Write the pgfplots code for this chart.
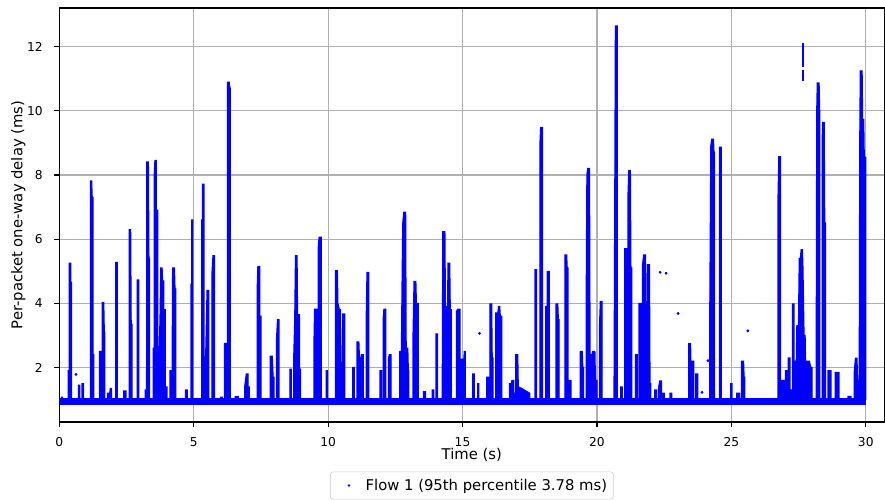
\documentclass[border=0pt]{standalone}
\usepackage{fontspec}
\setmainfont{DejaVu Sans}
\usepackage{pgfplots}
\pgfplotsset{compat=1.18}
\begin{document}
\begin{tikzpicture}
\path[use as bounding box] (-42.7bp,-56.2bp) rectangle (594.5bp,303.8bp);
\begin{axis}[
  at={(0,0)}, anchor=south west,
  scale only axis, width=594bp, height=298bp,
  xmin=0, xmax=30.69, ymin=0.31, ymax=13.2,
  xtick={0,5,...,30}, ytick={2,4,...,12},
  grid=major,
  major grid style={color=black!31, line width=0.8bp},
  axis line style={line width=0.8bp, black},
  tick align=outside, major tick length=3.5bp,
  tick style={line width=0.8bp, black},
  xtick pos=bottom, ytick pos=left,
  /pgf/number format/assume math mode=true,
  ticklabel style={font=\fontsize{8.85}{10}\selectfont},
  xticklabel style={anchor=north, inner sep=0pt, yshift=-7.4bp},
  yticklabel style={anchor=east, inner sep=0pt, xshift=-8.2bp},
  xlabel={Time (s)}, ylabel={Per-packet one-way delay (ms)},
  label style={font=\fontsize{10.7}{12}\selectfont},
  xlabel style={at={(axis description cs:0.5,0)}, anchor=center, yshift=-23.8bp},
  ylabel style={at={(axis description cs:-0.0497,0.5)}, anchor=center},
  legend style={at={(axis description cs:0.5,-0.120)}, anchor=north,
    draw=black!20, rounded corners=2bp, font=\fontsize{10.7}{12}\selectfont,
    inner xsep=2.5bp, inner ysep=3bp, nodes={inner xsep=2bp, inner ysep=2bp}},
  legend cell align=left,
  legend image code/.code={\path[draw=none, fill=none] (0bp,-1bp) rectangle (21bp,1bp); \fill[blue, draw=none] (11bp,0bp) circle (0.95bp);},
]
% baseline band
\addplot[blue, line width=5bp, forget plot] coordinates {(0,0.94) (30.02,0.94)};
% spike trace (filled above the 1 ms floor)
\addplot[draw=blue, fill=blue, line width=1bp, line join=miter, forget plot] coordinates {
(0,1.0)(0.08,1.0)(0.08,1.08)(0.12,1.08)(0.12,1.0)
(0.34,1.0)(0.34,1.9)(0.37,1.9)(0.37,5.25)(0.42,5.25)(0.42,4.65)(0.45,4.65)(0.45,1.0)
(0.72,1.0)(0.72,1.45)(0.76,1.45)(0.76,1.0)
(0.85,1.0)(0.85,1.5)(0.9,1.5)(0.9,1.0)
(1.16,1.0)(1.16,7.81)(1.2,7.81)(1.22,7.3)(1.25,7.3)(1.25,2.4)(1.28,2.4)(1.28,1.0)
(1.5,1.0)(1.5,2.5)(1.56,2.5)(1.56,1.0)
(1.6,1.0)(1.6,4.03)(1.65,4.03)(1.67,3.1)(1.69,3.1)(1.69,1.0)
(1.8,1.0)(1.8,1.2)(1.88,1.2)(1.9,1.35)(1.94,1.35)(1.94,1.0)
(2.1,1.0)(2.1,5.27)(2.15,5.27)(2.15,1.0)
(2.4,1.0)(2.4,1.27)(2.48,1.27)(2.48,1.0)
(2.6,1.0)(2.6,6.29)(2.65,6.29)(2.67,3.35)(2.7,3.35)(2.7,1.0)
(2.9,1.0)(2.9,4.73)(2.95,4.73)(2.95,1.0)
(3.2,1.0)(3.2,1.3)(3.25,1.3)(3.26,8.40)(3.31,8.40)(3.33,5.4)(3.35,5.4)(3.35,1.0)
(3.5,1.0)(3.5,2.6)(3.53,2.6)(3.53,7.9)(3.56,8.45)(3.6,8.45)(3.6,6.9)(3.66,6.9)(3.66,2.0)(3.72,2.5)(3.75,3.5)(3.78,5.1)(3.82,5.1)(3.84,4.7)(3.88,4.7)(3.88,3.8)(3.94,3.8)(3.94,1.4)(4.0,1.4)(4.0,1.0)
(4.12,1.0)(4.12,1.9)(4.2,1.9)(4.22,5.1)(4.28,5.1)(4.3,4.45)(4.33,4.45)(4.33,1.0)
(4.7,1.0)(4.7,1.3)(4.76,1.3)(4.76,1.0)
(4.9,1.0)(4.9,4.6)(4.93,4.6)(4.93,6.6)(4.96,6.6)(4.96,1.0)
(5.3,1.0)(5.3,6.6)(5.33,6.6)(5.33,7.71)(5.38,7.71)(5.38,1.9)(5.45,2.4)(5.5,4.4)(5.56,4.4)(5.56,1.0)
(5.68,1.0)(5.68,4.9)(5.72,5.48)(5.77,5.48)(5.77,1.0)
(6.0,1.0)(6.0,1.08)(6.06,1.08)(6.06,1.0)
(6.15,1.0)(6.15,2.75)(6.22,2.75)(6.22,1.6)(6.26,1.6)(6.26,10.89)(6.32,10.89)(6.34,10.7)(6.36,10.7)(6.36,1.0)
(6.55,1.0)(6.55,1.1)(6.65,1.1)(6.65,1.0)
(6.9,1.0)(6.9,1.4)(6.96,1.8)(7.02,1.8)(7.02,1.4)(7.06,1.4)(7.06,1.0)
(7.37,1.0)(7.37,4.6)(7.39,5.15)(7.45,5.15)(7.45,3.6)(7.5,3.6)(7.5,1.0)
(7.85,1.0)(7.85,2.35)(7.92,2.35)(7.95,1.7)(7.98,1.7)(7.98,1.0)
(8.08,1.0)(8.08,2.8)(8.12,3.49)(8.17,3.49)(8.17,1.0)
(8.58,1.0)(8.58,1.95)(8.63,1.95)(8.63,1.0)
(8.72,1.0)(8.72,2.2)(8.76,3.4)(8.79,5.48)(8.84,5.48)(8.86,3.65)(8.93,3.65)(8.93,1.95)(8.97,1.95)(8.97,1.0)
(9.48,1.0)(9.48,2.9)(9.5,3.82)(9.57,3.82)(9.57,1.6)(9.62,1.6)(9.64,5.8)(9.67,6.06)(9.74,6.06)(9.74,1.0)
(9.93,1.0)(9.93,1.9)(9.97,1.9)(9.97,1.0)
(10.28,1.0)(10.28,5.02)(10.34,5.02)(10.36,4.0)(10.42,3.8)(10.46,3.8)(10.46,2.0)(10.52,2.0)(10.55,3.67)(10.62,3.67)(10.62,1.0)
(10.92,1.0)(10.92,2.0)(10.97,2.0)(10.97,1.0)
(11.08,1.0)(11.08,2.8)(11.14,2.8)(11.16,2.3)(11.22,2.3)(11.24,2.4)(11.3,2.4)(11.3,1.0)
(11.42,1.0)(11.42,3.5)(11.45,4.96)(11.51,4.96)(11.51,1.0)
(11.93,1.0)(11.93,1.9)(11.98,1.9)(11.98,1.0)
(12.05,1.0)(12.05,3.5)(12.08,3.82)(12.14,3.82)(12.14,1.0)
(12.25,1.0)(12.25,2.3)(12.28,2.4)(12.34,2.4)(12.34,1.0)
(12.67,1.0)(12.67,2.5)(12.73,2.5)(12.75,4.3)(12.78,6.5)(12.82,6.84)(12.88,6.84)(12.9,2.6)(12.96,2.6)(12.98,1.9)(13.0,1.9)(13.0,1.0)
(13.16,1.0)(13.16,2.9)(13.2,4.68)(13.26,4.68)(13.28,4.0)(13.35,4.0)(13.35,1.0)
(13.55,1.0)(13.55,1.25)(13.62,1.25)(13.62,1.0)(13.88,1.0)(13.88,1.3)(13.93,1.3)(13.93,1.0)
(14.02,1.0)(14.02,3.05)(14.07,3.05)(14.07,1.0)
(14.25,1.0)(14.25,1.5)(14.27,6.23)(14.34,6.23)(14.36,3.9)(14.42,3.9)(14.42,1.5)(14.44,1.5)(14.46,5.25)(14.52,5.25)(14.54,3.8)(14.58,3.8)(14.58,1.0)
(14.78,1.0)(14.78,3.75)(14.82,3.82)(14.9,3.82)(14.9,1.0)
(14.96,1.0)(14.96,2.26)(15.05,2.26)(15.07,2.5)(15.1,2.5)(15.1,1.0)
(15.38,1.0)(15.38,1.8)(15.43,1.8)(15.43,1.0)
(15.57,1.0)(15.57,1.5)(15.6,1.5)(15.6,1.0)
(15.9,1.0)(15.9,1.7)(15.98,1.7)(15.98,1.0)(16.02,1.0)(16.02,3.98)(16.08,3.98)(16.1,2.3)(16.13,2.3)(16.13,1.0)
(16.24,1.0)(16.24,3.7)(16.32,3.7)(16.34,3.9)(16.38,3.9)(16.4,3.6)(16.46,3.6)(16.46,1.0)
(16.75,1.0)(16.75,1.5)(16.82,1.5)(16.84,1.6)(16.9,1.6)(16.9,1.2)(16.98,1.2)(16.98,2.4)(17.05,2.4)(17.07,1.4)(17.2,1.35)(17.3,1.3)(17.5,1.2)(17.5,1.0)
(17.7,1.0)(17.7,5.05)(17.75,5.05)(17.75,1.0)
(17.88,1.0)(17.88,8.9)(17.91,9.48)(17.97,9.48)(17.97,1.0)
(18.1,1.0)(18.1,3.9)(18.15,3.9)(18.15,4.99)(18.22,4.99)(18.22,1.0)
(18.48,1.0)(18.48,3.98)(18.54,3.98)(18.56,3.5)(18.59,3.5)(18.59,1.0)
(18.81,1.0)(18.81,5.51)(18.87,5.51)(18.89,5.1)(18.92,5.1)(18.92,1.0)
(18.97,1.0)(18.97,1.6)(19.03,1.6)(19.03,1.0)
(19.38,1.0)(19.38,2.5)(19.45,2.5)(19.47,2.0)(19.5,2.0)(19.5,1.0)
(19.6,1.0)(19.6,3.5)(19.63,8.0)(19.66,8.2)(19.72,8.2)(19.74,2.4)(19.82,2.4)(19.84,2.5)(19.92,2.5)(19.94,1.6)(20.0,1.6)(20.0,1.0)
(20.1,1.0)(20.1,3.3)(20.13,4.06)(20.19,4.06)(20.19,1.0)
(20.64,1.0)(20.64,1.4)(20.67,8.0)(20.69,12.64)(20.75,12.64)(20.75,1.0)
(20.89,1.0)(20.89,1.4)(20.94,1.4)(20.94,1.0)
(21.04,1.0)(21.04,5.7)(21.1,5.7)(21.12,3.2)(21.15,3.2)(21.16,7.4)(21.19,8.14)(21.24,8.14)(21.26,5.1)(21.29,5.1)(21.29,1.0)
(21.44,1.0)(21.44,2.4)(21.5,2.4)(21.5,1.0)(21.57,1.0)(21.57,4.0)(21.64,4.0)(21.64,1.0)
(21.7,1.0)(21.7,5.2)(21.74,5.51)(21.8,5.51)(21.82,2.0)(21.86,2.0)(21.88,5.2)(21.95,5.2)(21.97,1.5)(22.0,1.5)(22.0,1.0)
(22.15,1.0)(22.15,1.3)(22.22,1.3)(22.22,1.0)(22.3,1.0)(22.3,1.4)(22.34,1.58)(22.4,1.58)(22.4,1.2)(22.5,1.2)(22.5,1.0)
(22.72,1.0)(22.72,1.2)(22.78,1.2)(22.78,1.0)
(23.42,1.0)(23.42,2.74)(23.48,2.74)(23.5,1.4)(23.55,2.2)(23.6,2.2)(23.6,1.0)
(23.68,1.0)(23.68,1.8)(23.75,1.8)(23.75,1.0)
(24.2,1.0)(24.2,3.6)(24.24,8.9)(24.27,9.11)(24.33,9.11)(24.35,8.7)(24.37,8.7)(24.37,1.0)
(24.56,1.0)(24.56,8.86)(24.62,8.86)(24.62,1.0)
(24.98,1.0)(24.98,1.5)(25.02,1.5)(25.02,1.0)
(25.2,1.0)(25.2,1.2)(25.3,1.2)(25.3,1.0)
(25.38,1.0)(25.38,2.2)(25.45,2.2)(25.47,1.7)(25.5,1.7)(25.5,1.0)
(26.74,1.0)(26.74,7.3)(26.77,8.57)(26.83,8.57)(26.83,1.0)
(26.88,1.0)(26.88,1.6)(26.96,1.6)(26.96,1.0)(27.02,1.0)(27.02,1.9)(27.07,1.9)(27.07,1.0)(27.12,1.0)(27.12,2.3)(27.18,2.3)(27.18,1.3)(27.28,1.3)(27.28,3.98)(27.33,3.98)(27.33,2.2)(27.42,2.2)(27.44,3.3)(27.5,3.3)(27.53,5.4)(27.57,5.4)(27.6,5.67)(27.64,5.67)(27.66,5.1)(27.7,3.0)(27.74,3.0)(27.76,2.0)(27.8,2.2)(27.9,2.2)(27.95,2.0)(28.0,2.0)(28.0,1.0)
(28.16,1.0)(28.16,2.2)(28.18,10.0)(28.2,10.86)(28.26,10.86)(28.28,10.0)(28.29,10.0)(28.29,1.0)
(28.38,1.0)(28.38,9.0)(28.4,9.63)(28.45,9.63)(28.47,6.5)(28.5,6.5)(28.5,1.0)
(28.6,1.0)(28.6,1.9)(28.7,1.9)(28.7,1.0)
(28.87,1.0)(28.87,1.85)(29.0,1.85)(29.0,1.0)
(29.34,1.0)(29.34,1.1)(29.45,1.1)(29.45,1.0)
(29.57,1.0)(29.57,1.8)(29.62,2.29)(29.67,2.29)(29.69,1.6)(29.72,1.6)(29.76,1.5)(29.78,9.0)(29.8,11.24)(29.86,11.24)(29.88,9.73)(29.92,9.73)(29.94,8.57)(29.98,7.48)(30.0,8.57)(30.0,1.0)
};
% isolated column near 27.67 s
\addplot[blue, line width=1.6bp, forget plot, unbounded coords=jump] coordinates {
(27.67,10.93)(27.67,11.26)(27.67,nan)(27.67,11.37)(27.67,12.12)
};
% isolated packets
\addplot[only marks, mark=*, mark size=0.8bp, blue] coordinates {
(0.62,1.79)(15.63,3.07)(22.35,4.97)(22.57,4.94)(23.02,3.69)(23.91,1.23)(24.13,2.22)(25.61,3.15)
};
\addlegendentry{Flow 1 (95th percentile 3.78 ms)}
\end{axis}
\end{tikzpicture}
\end{document}
